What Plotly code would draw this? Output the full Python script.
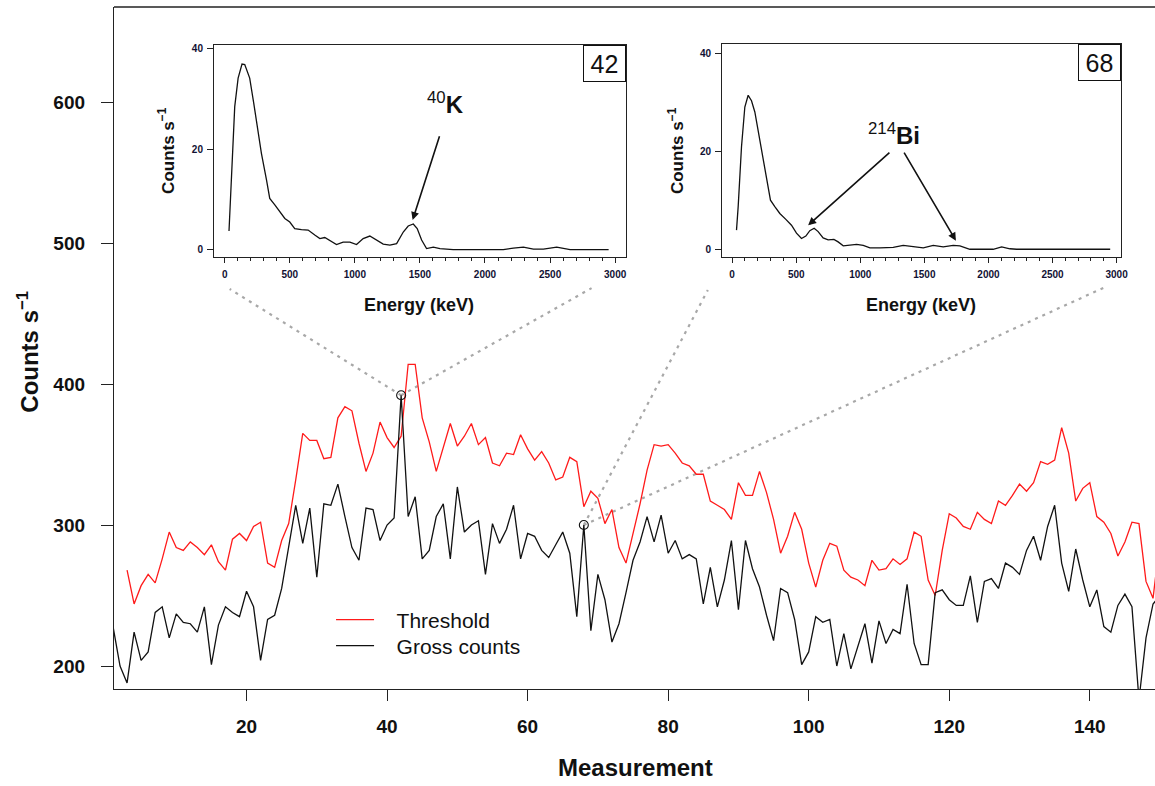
import plotly.graph_objects as go

# ---- main series: gross counts and alarm threshold per measurement ----
measurement = list(range(1, 151))

gross_counts = [
    228, 200, 188, 224, 204, 210, 238, 242, 220, 237,
    231, 230, 224, 242, 201, 229, 242, 238, 235, 253,
    242, 204, 233, 236, 255, 285, 314, 287, 312, 263,
    315, 314, 329, 306, 284, 275, 312, 311, 289, 300,
    305, 392, 306, 320, 276, 282, 306, 315, 276, 327,
    295, 300, 303, 265, 301, 287, 297, 314, 276, 294,
    292, 282, 277, 286, 295, 280, 235, 300, 225, 265,
    247, 217, 230, 252, 275, 288, 306, 288, 307, 280,
    289, 276, 279, 276, 244, 270, 242, 261, 289, 240,
    289, 269, 256, 236, 218, 255, 252, 233, 201, 210,
    235, 231, 233, 200, 223, 198, 214, 230, 202, 232,
    216, 226, 223, 258, 216, 201, 201, 252, 254, 247,
    243, 243, 264, 231, 260, 262, 255, 273, 270, 265,
    282, 292, 275, 299, 314, 273, 253, 283, 261, 242,
    254, 228, 224, 243, 251, 242, 176, 220, 244, 250,
]

threshold = [
    None, None, 268, 244, 257, 265, 259, 276, 295, 284,
    282, 288, 284, 279, 286, 274, 268, 290, 294, 289,
    299, 302, 273, 270, 289, 301, 332, 365, 360, 360,
    347, 348, 376, 384, 381, 358, 338, 351, 373, 362,
    355, 363, 414, 414, 376, 359, 338, 355, 372, 356,
    363, 372, 357, 362, 344, 342, 351, 350, 364, 354,
    346, 352, 344, 332, 334, 348, 345, 313, 324, 319,
    301, 311, 284, 273, 294, 315, 339, 357, 356, 357,
    351, 344, 342, 336, 336, 317, 314, 311, 304, 330,
    321, 321, 338, 323, 304, 280, 292, 309, 297, 273,
    256, 275, 287, 285, 268, 263, 261, 257, 275, 268,
    269, 276, 272, 276, 295, 292, 261, 250, 282, 308,
    305, 299, 297, 309, 304, 301, 317, 314, 321, 329,
    324, 330, 345, 343, 346, 369, 351, 317, 326, 330,
    306, 302, 294, 278, 288, 302, 301, 260, 248, 290,
]

# measurements whose spectra are shown in the insets
highlighted = [42, 68]

# ---- spectrum for measurement 42 ----
energy_42 = [33, 46, 77, 103, 133, 154, 192, 223, 249, 282, 321, 346, 385, 423,
             462, 500, 538, 590, 641, 692, 731, 769, 821, 859, 910, 962, 1013,
             1064, 1115, 1167, 1218, 1269, 1321, 1372, 1410, 1449, 1479, 1513,
             1551, 1603, 1654, 1756, 2141, 2218, 2295, 2372, 2449, 2551, 2603,
             2654, 2950]
counts_42 = [3.7, 11.9, 28.5, 34.2, 37.0, 36.9, 34.2, 29.2, 24.5, 19.2, 13.9,
             10.2, 8.9, 7.5, 6.2, 5.5, 4.2, 4.0, 3.9, 2.9, 2.2, 2.4, 1.5, 1.0,
             1.5, 1.5, 1.0, 2.2, 2.7, 1.9, 1.1, 0.9, 1.2, 3.5, 4.7, 5.1, 4.2,
             1.9, 0.2, 0.5, 0.2, 0.0, 0.0, 0.3, 0.5, 0.1, 0.1, 0.5, 0.3, 0.0, 0.0]

# ---- spectrum for measurement 68 ----
energy_68 = [34, 47, 73, 99, 125, 151, 177, 211, 242, 273, 299, 333, 372, 419,
             463, 502, 541, 575, 606, 640, 671, 710, 749, 794, 827, 867, 919,
             971, 1023, 1075, 1153, 1257, 1335, 1413, 1491, 1569, 1647, 1725,
             1777, 1855, 2037, 2103, 2168, 2220, 2950]
counts_68 = [3.9, 8.7, 20.9, 29.0, 31.4, 30.3, 28.0, 22.9, 18.2, 14.1, 10.0,
             8.7, 7.3, 6.1, 4.9, 3.3, 2.2, 2.7, 3.8, 4.3, 3.6, 2.3, 1.9, 2.0,
             1.5, 0.7, 0.8, 1.0, 0.8, 0.3, 0.3, 0.4, 0.8, 0.5, 0.3, 0.8, 0.5,
             0.8, 0.7, 0.0, 0.0, 0.5, 0.1, 0.0, 0.0]

FONT = "Liberation Sans, Arial, sans-serif"
AXIS_COLOR = "#222222"

fig = go.Figure()

fig.add_trace(go.Scatter(
    x=measurement, y=threshold, mode="lines", name="\u00a0\u00a0\u00a0Threshold", legend="legend",
    line=dict(color="#ff1a1a", width=1.3), connectgaps=False,
))
fig.add_trace(go.Scatter(
    x=measurement, y=gross_counts, mode="lines", name="\u00a0\u00a0\u00a0Gross counts", legend="legend2",
    line=dict(color="#111111", width=1.3),
))

# open circles on the highlighted measurements
hl_y = [gross_counts[measurement.index(m)] for m in highlighted]
fig.add_trace(go.Scatter(
    x=highlighted, y=hl_y, mode="markers", showlegend=False,
    marker=dict(symbol="circle-open", size=9, color="#111111",
                line=dict(width=1.1, color="#111111")),
))

# inset spectra
fig.add_trace(go.Scatter(x=energy_42, y=counts_42, mode="lines", showlegend=False,
                         line=dict(color="#111111", width=1.3),
                         xaxis="x2", yaxis="y2"))
fig.add_trace(go.Scatter(x=energy_68, y=counts_68, mode="lines", showlegend=False,
                         line=dict(color="#111111", width=1.3),
                         xaxis="x3", yaxis="y3"))

# ---- layout geometry ----
inset_axis_common = dict(
    showline=True, mirror=True, linecolor=AXIS_COLOR, linewidth=1.1,
    ticks="outside", tickcolor=AXIS_COLOR, tickwidth=1, showgrid=False,
    zeroline=False, tickfont=dict(family=FONT, size=10, color="#111133", weight="bold"),
)

inset_x = dict(inset_axis_common, tickvals=[0, 500, 1000, 1500, 2000, 2500, 3000],
               ticklen=5, ticklabelstandoff=3,
               minor=dict(dtick=100, ticklen=3, ticks="outside",
                          tickcolor=AXIS_COLOR, tick0=0))
inset_y = dict(inset_axis_common, tickvals=[0, 20, 40], ticklen=6, ticklabelstandoff=2)

legend_common = dict(
    x=0.2085, xanchor="left", yanchor="middle",
    font=dict(family=FONT, size=21, color="#111111"),
    bgcolor="rgba(0,0,0,0)", borderwidth=0, itemwidth=38,
)

fig.update_layout(
    width=1155, height=786,
    margin=dict(l=114, r=0, t=7, b=97, autoexpand=False),
    paper_bgcolor="white", plot_bgcolor="white",
    font=dict(family=FONT, color="#111111"),
    xaxis=dict(
        range=[1.14, 149.28], showline=True, linecolor=AXIS_COLOR, linewidth=1.3,
        ticks="outside", ticklen=11, tickwidth=1.2, tickcolor=AXIS_COLOR,
        tickvals=list(range(20, 141, 20)), showgrid=False, zeroline=False,
        tickfont=dict(family=FONT, size=19, weight="bold", color="#111111"),
        ticklabelstandoff=9, automargin=False,
    ),
    yaxis=dict(
        range=[183.7, 667.4], showline=True, linecolor=AXIS_COLOR, linewidth=1.3,
        ticks="outside", ticklen=12, tickwidth=1.2, tickcolor=AXIS_COLOR,
        tickvals=[200, 300, 400, 500, 600], showgrid=False, zeroline=False,
        tickfont=dict(family=FONT, size=19, weight="bold", color="#111111"),
        ticklabelstandoff=12, automargin=False,
    ),
    xaxis2=dict(inset_x, domain=[0.0961, 0.4914], range=[-82, 3080], anchor="y2"),
    yaxis2=dict(inset_y, domain=[0.634, 0.9443], range=[-1.4, 40.8], anchor="x2"),
    xaxis3=dict(inset_x, domain=[0.5842, 0.9673], range=[-78, 3034], anchor="y3"),
    yaxis3=dict(inset_y, domain=[0.634, 0.9453], range=[-1.5, 41.8], anchor="x3"),
    legend=dict(legend_common, y=0.1012),
    legend2=dict(legend_common, y=0.0630),
    showlegend=True,
)

# top edge of the main frame
fig.add_shape(type="line", xref="paper", yref="paper", x0=0, x1=1, y0=1, y1=1,
              line=dict(color=AXIS_COLOR, width=1.3))

# dotted connectors from the highlighted points to the insets
feet = {42: [(17.6, 467.4), (69.1, 468.0)], 68: [(85.65, 466.7), (142.2, 468.8)]}
for m, yv in zip(highlighted, hl_y):
    for fx, fy in feet[m]:
        fig.add_shape(type="line", xref="x", yref="y", x0=m, y0=yv, x1=fx, y1=fy,
                      layer="below", line=dict(color="#a8a8a8", width=2.2, dash="3px,5px"))

annotations = [
    # main axis titles
    dict(text="<b>Measurement</b>", xref="paper", yref="paper", x=0.5008, y=-0.1158,
         showarrow=False, font=dict(family=FONT, size=24, color="#111111"),
         xanchor="center", yanchor="middle"),
    dict(text="<b>Counts s<sup>−1</sup></b>", xref="paper", yref="paper", x=-0.083, y=0.494,
         showarrow=False, textangle=-90, font=dict(family=FONT, size=24, color="#111111"),
         xanchor="center", yanchor="middle"),
    # inset axis titles
    dict(text="<b>Counts s<sup>−1</sup></b>", xref="paper", yref="paper", x=0.0506, y=0.79,
         showarrow=False, textangle=-90, font=dict(family=FONT, size=17, color="#111111"),
         xanchor="center", yanchor="middle"),
    dict(text="<b>Counts s<sup>−1</sup></b>", xref="paper", yref="paper", x=0.5397, y=0.79,
         showarrow=False, textangle=-90, font=dict(family=FONT, size=17, color="#111111"),
         xanchor="center", yanchor="middle"),
    dict(text="<b>Energy (keV)</b>", xref="paper", yref="paper", x=0.2928, y=0.563,
         showarrow=False, font=dict(family=FONT, size=18, color="#111111"),
         xanchor="center", yanchor="middle"),
    dict(text="<b>Energy (keV)</b>", xref="paper", yref="paper", x=0.7752, y=0.563,
         showarrow=False, font=dict(family=FONT, size=18, color="#111111"),
         xanchor="center", yanchor="middle"),
    # measurement number boxes
    dict(text=str(highlighted[0]), xref="paper", yref="paper", x=0.4914, y=0.9443,
         xanchor="right", yanchor="top", showarrow=False, width=41, height=35,
         bordercolor="#111111", borderwidth=1, borderpad=0, bgcolor="white",
         font=dict(family=FONT, size=25, color="#111111")),
    dict(text=str(highlighted[1]), xref="paper", yref="paper", x=0.9673, y=0.9453,
         xanchor="right", yanchor="top", showarrow=False, width=41, height=35,
         bordercolor="#111111", borderwidth=1, borderpad=0, bgcolor="white",
         font=dict(family=FONT, size=25, color="#111111")),
    # isotope labels
    dict(text="<sup>40</sup><b>K</b>", xref="x2", yref="y2", x=1700, y=29.3,
         showarrow=False, font=dict(family=FONT, size=24, color="#111111"),
         xanchor="center", yanchor="middle"),
    dict(text="<sup>214</sup><b>Bi</b>", xref="x3", yref="y3", x=1262, y=23.5,
         showarrow=False, font=dict(family=FONT, size=24, color="#111111"),
         xanchor="center", yanchor="middle"),
]

# arrows pointing at the photopeaks
arrow_style = dict(showarrow=True, text="", arrowhead=2, arrowsize=1, arrowwidth=1.6,
                   arrowcolor="#111111", standoff=0, startstandoff=0)
annotations += [
    dict(arrow_style, xref="x2", yref="y2", axref="x2", ayref="y2",
         x=1444, y=5.9, ax=1654, ay=22.9),
    dict(arrow_style, xref="x3", yref="y3", axref="x3", ayref="y3",
         x=593, y=4.9, ax=1239, ay=20.0),
    dict(arrow_style, xref="x3", yref="y3", axref="x3", ayref="y3",
         x=1746, y=1.75, ax=1335, ay=20.0),
]
fig.update_layout(annotations=annotations)

fig.write_html("out.html")
